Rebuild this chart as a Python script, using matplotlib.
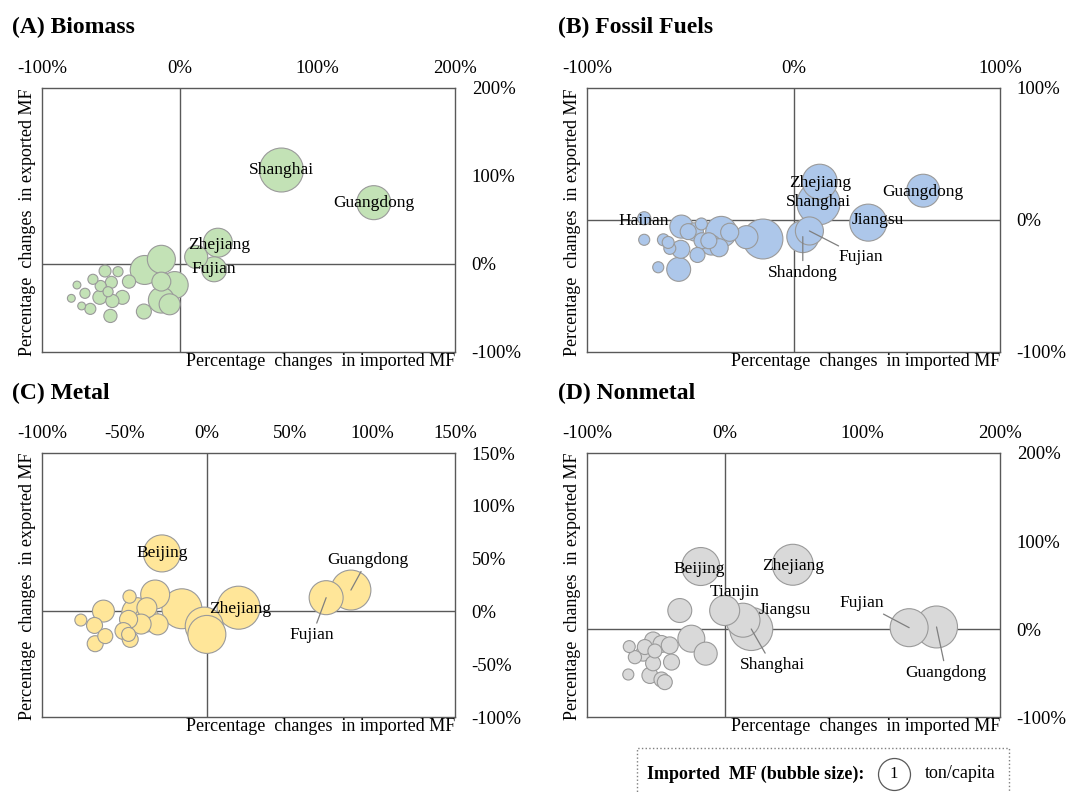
import matplotlib

matplotlib.use("Agg")
import matplotlib.pyplot as plt
from matplotlib.patches import Rectangle
from matplotlib.ticker import FuncFormatter

plt.rcParams["font.family"] = ["Liberation Serif", "DejaVu Serif"]

# percentage changes (imported, exported) and imported MF in ton/capita
biomass_names = ["Shanghai", "Guangdong", "Zhejiang", "", "Fujian"] + [""] * 23
biomass_x = [73.9, 141, 27.8, 12, 25, -13.3, -25.4, -13.3, -3.6, -13.3, -7.3, -26,
             -36.8, -41.6, -49.6, -44.8, -54.2, -57.4, -63, -48.9, -52, -58, -50.3,
             -64.9, -68.8, -74.6, -78.7, -71.2]
biomass_y = [106.8, 69.7, 24.2, 8, -6, 5.3, -6.8, -20, -23.9, -41, -45.8, -54,
             -20, -37.9, -20.8, -8.7, -8, -25, -17.4, -42, -31.5, -37.9, -59,
             -51, -33.3, -23.9, -39, -47.7]
biomass_size = [1.89, 1.13, 0.82, 0.52, 0.61, 0.77, 0.82, 0.35, 0.71, 0.66, 0.43, 0.22,
                0.17, 0.19, 0.14, 0.10, 0.14, 0.12, 0.10, 0.17, 0.10, 0.19, 0.17,
                0.12, 0.10, 0.06, 0.06, 0.06]

fossil_names = ["Zhejiang", "Shanghai", "Guangdong", "Jiangsu", "Shandong", "Fujian",
                "", "", "Hainan"] + [""] * 18
fossil_x = [12.7, 12.1, 62.8, 36.2, 4.5, 7.7, -14.8, -22.8, -72.3, -72.3, -65.5,
            -55.6, -54.6, -59.9, -63, -60.7, -54.3, -51, -44.6, -35, -39.8, -44.3,
            -46.5, -30.9, -36, -41, -48]
fossil_y = [29, 12.6, 22.2, -2, -12.6, -8.3, -14.4, -13, 1.3, -15, -35.8,
            -37.4, -22.2, -21.5, -15, -17, -5, -8.8, -3, -9, -19, -15.7,
            -26.5, -9.3, -21, -15.7, -9]
fossil_size = [1.20, 1.81, 1.06, 1.34, 1.00, 0.77, 1.56, 0.52, 0.17, 0.12, 0.12,
               0.56, 0.32, 0.14, 0.14, 0.14, 0.52, 0.25, 0.14, 0.94, 0.39, 0.25,
               0.22, 0.32, 0.32, 0.25, 0.32]

metal_names = ["Beijing", "Guangdong", "Fujian", "Zhejiang"] + [""] * 19
metal_x = [-27.4, 87, 72, 19, -1.8, -0.2, -15.3, -31.5, -36.5, -30, -42.6, -47,
           -47.6, -50.7, -46.6, -62.8, -68.2, -67.8, -61.7, -76.5, -36.5, -47.6, -40]
metal_y = [54.9, 20.2, 13, 3.5, -13.9, -21.8, 2.5, 16, 3.5, -12.3, -1.2, 14,
           -7.6, -18.6, -26.5, 0.3, -13.3, -30.6, -23.4, -8.2, -7.6, -21.8, -12]
metal_size = [1.34, 1.56, 1.13, 1.81, 1.41, 1.41, 1.56, 0.82, 0.39, 0.43, 0.88, 0.17,
              0.32, 0.28, 0.25, 0.47, 0.25, 0.25, 0.22, 0.14, 0.61, 0.19, 0.39]

nonmetal_names = ["Beijing", "Zhejiang", "Tianjin", "Jiangsu", "Shanghai", "Fujian",
                  "Guangdong"] + [""] * 17
nonmetal_x = [-17.4, 49.5, 0, 13.3, 19.3, 134, 153.9, -32.6, -24.2, -13.8, -69.3,
              -65.2, -59.2, -52, -45.9, -39.9, -50.7, -52, -38.6, -70, -54.3,
              -45.9, -43.5, -58]
nonmetal_y = [71, 73, 21, 10, 0, 1.5, 2.3, 21, -11, -28, -20,
              -32, -28, -13, -17, -18.6, -25, -39, -37.6, -51.7, -52.8,
              -57.4, -60.4, -20.5]
nonmetal_size = [1.41, 1.64, 0.88, 1.13, 1.81, 1.41, 1.72, 0.56, 0.71, 0.52, 0.14,
                 0.17, 0.22, 0.28, 0.28, 0.28, 0.19, 0.22, 0.25, 0.12, 0.25,
                 0.22, 0.22, 0.22]

# marker area (pt^2) for 1 ton/capita
SIZE_SCALE = 530
EDGE = "#9a9a9a"
LINE = "#595959"

# label offsets in points; True = draw a leader line to the bubble
biomass_notes = {"Shanghai": (0, 0, False), "Guangdong": (0, 0, False),
                 "Zhejiang": (1, -2, False), "Fujian": (0, 0, False)}
fossil_notes = {"Zhejiang": (0, -1, False), "Shanghai": (0, 1, False),
                "Guangdong": (0, -1, False), "Jiangsu": (7, 2, False),
                "Hainan": (0, -2, False), "Fujian": (37, -19, True),
                "Shandong": (0, -26, True)}
metal_notes = {"Beijing": (0, 0, False), "Zhejiang": (1, -1, False),
               "Guangdong": (12, 22, True), "Fujian": (-10, -27, True)}
nonmetal_notes = {"Beijing": (-1, -2, False), "Zhejiang": (0, -1, False),
                  "Tianjin": (7, 13, False), "Jiangsu": (30, 7, False),
                  "Shanghai": (15, -26, True), "Fujian": (-34, 18, True),
                  "Guangdong": (7, -33, True)}


def draw_panel(ax, names, xs, ys, sizes, color, lim_x, lim_y, step, notes):
    order = sorted(range(len(xs)), key=lambda i: -sizes[i])
    ax.scatter([xs[i] for i in order], [ys[i] for i in order],
               s=[sizes[i] * SIZE_SCALE for i in order],
               color=color, edgecolor=EDGE, linewidth=0.8, zorder=3)
    ax.axhline(0, color=LINE, lw=1, zorder=1)
    ax.axvline(0, color=LINE, lw=1, zorder=1)
    ax.set_xlim(*lim_x)
    ax.set_ylim(*lim_y)
    ax.set_xticks(range(lim_x[0], lim_x[1] + 1, step[0]))
    ax.set_yticks(range(lim_y[0], lim_y[1] + 1, step[1]))
    pct = FuncFormatter(lambda v, _: f"{v:.0f}%")
    ax.xaxis.set_major_formatter(pct)
    ax.yaxis.set_major_formatter(pct)
    ax.xaxis.tick_top()
    ax.yaxis.tick_right()
    ax.tick_params(axis="x", length=0, pad=8, labelsize=13.5)
    ax.tick_params(axis="y", length=0, pad=12, labelsize=13.5)
    for s in ax.spines.values():
        s.set_color(LINE)
        s.set_linewidth(1)

    for name, x, y in zip(names, xs, ys):
        if not name:
            continue
        dx, dy, leader = notes[name]
        arrow = dict(arrowstyle="-", color="#7f7f7f", lw=0.9,
                     shrinkA=1, shrinkB=0) if leader else None
        ax.annotate(name, (x, y), xytext=(dx, dy), textcoords="offset points",
                    ha="center", va="center", fontsize=12.5, zorder=5,
                    arrowprops=arrow)

    ax.text(1.0, -0.035, "Percentage  changes  in imported MF", transform=ax.transAxes,
            ha="right", va="center", fontsize=13)
    ax.text(-0.036, 1.0, "Percentage  changes  in exported MF", transform=ax.transAxes,
            rotation=90, ha="center", va="top", fontsize=13)


fig = plt.figure(figsize=(10.91, 7.93), dpi=100)
W, H = 1091, 793
boxes = {
    "A": (42, 88), "B": (587, 88), "C": (42, 453), "D": (587, 453),
}


def add_box(key):
    left, top = boxes[key]
    return fig.add_axes([left / W, 1 - (top + 264) / H, 413 / W, 264 / H])


ax_a = add_box("A")
draw_panel(ax_a, biomass_names, biomass_x, biomass_y, biomass_size, "#c3e2b6",
           (-100, 200), (-100, 200), (100, 100), biomass_notes)
ax_b = add_box("B")
draw_panel(ax_b, fossil_names, fossil_x, fossil_y, fossil_size, "#adc7ea",
           (-100, 100), (-100, 100), (100, 100), fossil_notes)
ax_c = add_box("C")
draw_panel(ax_c, metal_names, metal_x, metal_y, metal_size, "#ffe699",
           (-100, 150), (-100, 150), (50, 50), metal_notes)
ax_d = add_box("D")
draw_panel(ax_d, nonmetal_names, nonmetal_x, nonmetal_y, nonmetal_size, "#d9d9d9",
           (-100, 200), (-100, 200), (100, 100), nonmetal_notes)

titles = [("(A) Biomass", 12, 27), ("(B) Fossil Fuels", 558, 27),
          ("(C) Metal", 12, 393), ("(D) Nonmetal", 558, 393)]
for text, x, y in titles:
    fig.text(x / W, 1 - y / H, text, fontsize=17, fontweight="bold",
             ha="left", va="center")

# bubble size key
fig.patches.append(Rectangle((637 / W, -0.02), 372 / W, 0.02 + 45 / H,
                             transform=fig.transFigure, fill=False,
                             edgecolor="#7f7f7f", lw=1, linestyle=":"))
fig.text(647 / W, 1 - 774 / H, "Imported  MF (bubble size):", fontsize=13,
         fontweight="bold", ha="left", va="center")
key_ax = fig.add_axes([(894 - 30) / W, 1 - (774 + 30) / H, 60 / W, 60 / H])
key_ax.set_xlim(-1, 1)
key_ax.set_ylim(-1, 1)
key_ax.axis("off")
key_ax.scatter([0], [0], s=SIZE_SCALE * 1, color="white", edgecolor=LINE, lw=0.9)
key_ax.text(0, 0, "1", ha="center", va="center", fontsize=12)
fig.text(925 / W, 1 - 774 / H, "ton/capita", fontsize=13, ha="left", va="center")

fig.savefig("out.png", dpi=100)
